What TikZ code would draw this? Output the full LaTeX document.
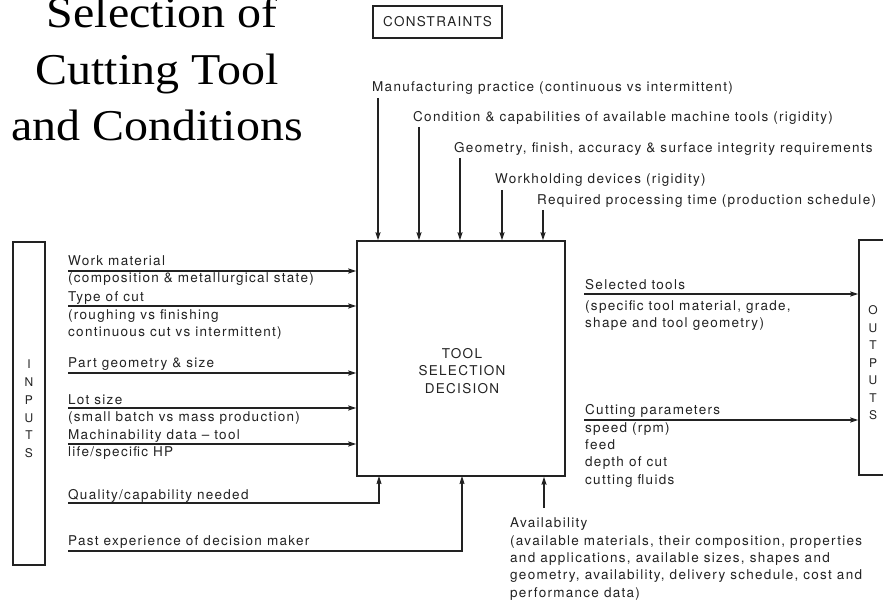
\documentclass[tikz,border=0pt]{standalone}
\usepackage{fontspec}
\setmainfont{TeX Gyre Heros}[LetterSpace=9.5]
\newfontfamily\titlefont{Liberation Serif}[FakeStretch=1.09]
\usetikzlibrary{arrows.meta}
\definecolor{ink}{HTML}{222222}
\begin{document}
\begin{tikzpicture}[x=1pt,y=-1pt,
    every node/.style={text=ink,font=\fontsize{13.5}{17.3}\selectfont},
    lbl/.style={anchor=base west,align=left,inner sep=0pt},
    box/.style={draw=ink,line width=1.4pt},
    arr/.style={draw=ink,line width=1.1pt,-{Stealth[length=8pt,width=5pt,inset=1pt]}},
    titletext/.style={anchor=base,font=\titlefont\fontsize{44}{56}\selectfont,text=black}]
  \useasboundingbox (0,0) rectangle (883,601);
  \clip (0,0) rectangle (883,601);

  % title
  \node[titletext] (title1) at (162,28) {Selection of};
  \node[titletext] (title2) at (157,85) {Cutting Tool};
  \node[titletext] (title3) at (157,141) {and Conditions};

  % boxes
  \node[box,minimum width=129,minimum height=32] (constraints) at (437.5,22) {CONSTRAINTS};
  \node[box,minimum width=208,minimum height=235] (decision) at (461,358.5) {};
  \node[align=center] (decisiontext) at (462,371) {TOOL\\SELECTION\\DECISION};
  \node[box,minimum width=32,minimum height=323] (inputs) at (29,403.5) {};
  \node[align=center,font=\fontsize{12}{17.8}\selectfont] (inputstext) at (29,409) {I\\N\\P\\U\\T\\S};
  \node[box,minimum width=28,minimum height=235] (outputs) at (873,357.5) {};
  \node[align=center,font=\fontsize{12}{17.5}\selectfont] (outputstext) at (873,363) {O\\U\\T\\P\\U\\T\\S};

  % constraints
  \coordinate (c1) at (378,98);
  \coordinate (c2) at (419,127);
  \coordinate (c3) at (460,158);
  \coordinate (c4) at (502,190);
  \coordinate (c5) at (543,210);
  \node[lbl] (practice) at (372,92) {Manufacturing practice (continuous vs intermittent)};
  \node[lbl] (machines) at (413,122) {Condition \& capabilities of available machine tools (rigidity)};
  \node[lbl] (geometry) at (454,153) {Geometry, finish, accuracy \& surface integrity requirements};
  \node[lbl] (workholding) at (495,184) {Workholding devices (rigidity)};
  \node[lbl] (proctime) at (537,205) {Required processing time (production schedule)};
  \draw[arr] (c1) -- (c1 |- decision.north);
  \draw[arr] (c2) -- (c2 |- decision.north);
  \draw[arr] (c3) -- (c3 |- decision.north);
  \draw[arr] (c4) -- (c4 |- decision.north);
  \draw[arr] (c5) -- (c5 |- decision.north);

  % inputs
  \coordinate (in1) at (68,271);
  \coordinate (in2) at (68,306);
  \coordinate (in3) at (68,373);
  \coordinate (in4) at (68,408);
  \coordinate (in5) at (68,444);
  \coordinate (in6) at (68,503);
  \coordinate (in7) at (68,551);
  \coordinate (quality) at (379,476);
  \coordinate (experience) at (462,476);
  \node[lbl] (material) at (68,266) {Work material};
  \node[lbl] (material2) at (68,283) {(composition \& metallurgical state)};
  \node[lbl] (cut) at (68,302) {Type of cut};
  % base of a multi-line label is its last line
  \node[lbl] (cut2) at (68,337) {(roughing vs finishing\\continuous cut vs intermittent)};
  \node[lbl] (part) at (68,367) {Part geometry \& size};
  \node[lbl] (lot) at (68,404) {Lot size};
  \node[lbl] (lot2) at (68,421) {(small batch vs mass production)};
  \node[lbl] (machinability) at (68,439) {Machinability data -- tool};
  \node[lbl] (machinability2) at (68,456) {life/specific HP};
  \node[lbl] (qualitytext) at (68,499) {Quality/capability needed};
  \node[lbl] (experiencetext) at (68,545) {Past experience of decision maker};
  \draw[arr] (in1) -- (in1 -| decision.west);
  \draw[arr] (in2) -- (in2 -| decision.west);
  \draw[arr] (in3) -- (in3 -| decision.west);
  \draw[arr] (in4) -- (in4 -| decision.west);
  \draw[arr] (in5) -- (in5 -| decision.west);
  \draw[arr] (in6) -| (quality);
  \draw[arr] (in7) -| (experience);

  % availability
  \coordinate (av) at (544,508);
  \node[lbl] (availability) at (510,597) {Availability\\(available materials, their composition, properties\\and applications, available sizes, shapes and\\geometry, availability, delivery schedule, cost and\\performance data)};
  \draw[arr] (av) -- (av |- decision.south);

  % outputs
  \coordinate (out1) at (584,294);
  \coordinate (out2) at (584,420);
  \node[lbl] (tools) at (585,290) {Selected tools};
  \node[lbl] (tools2) at (585,327.5) {(specific tool material, grade,\\shape and tool geometry)};
  \node[lbl] (params) at (585,414) {Cutting parameters};
  \node[lbl] (params2) at (585,484) {speed (rpm)\\feed\\depth of cut\\cutting fluids};
  \draw[arr] (out1) -- (out1 -| outputs.west);
  \draw[arr] (out2) -- (out2 -| outputs.west);
\end{tikzpicture}
\end{document}
